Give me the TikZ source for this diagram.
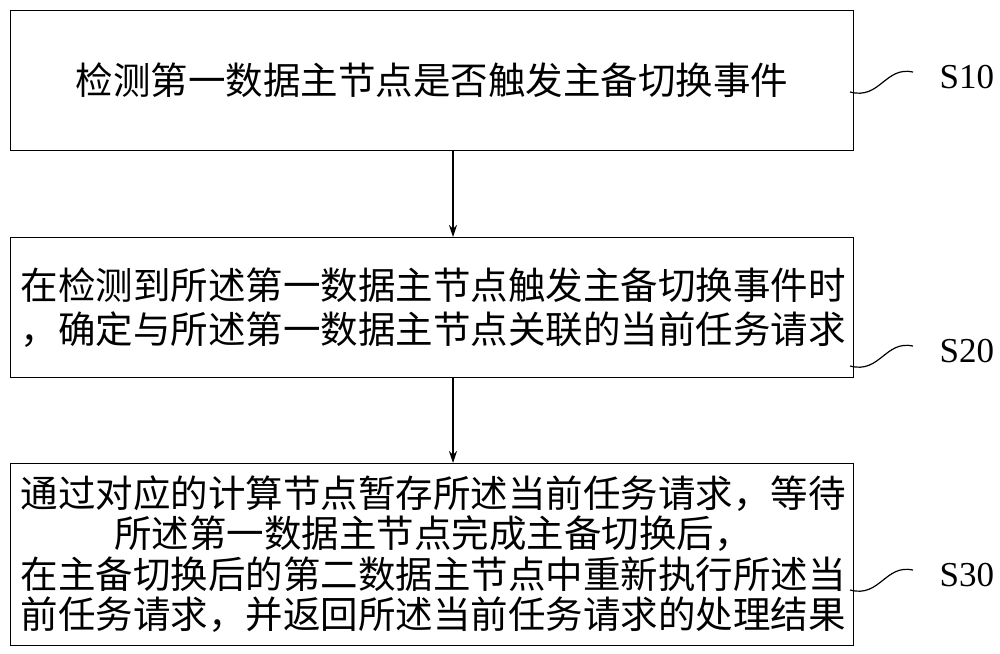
\documentclass[tikz,border=0pt]{standalone}
\usepackage{fontspec}
\usetikzlibrary{arrows.meta}
\setmainfont{Liberation Serif}
\newfontfamily\cjk{Noto Sans CJK SC}
\begin{document}
\begin{tikzpicture}[x=1pt,y=-1pt,
  box/.style={draw,line width=1.3pt,minimum width=843pt,inner sep=0pt,anchor=north west},
  txt/.style={font=\cjk\fontsize{37.5}{40.5}\selectfont,align=center},
  lab/.style={font=\fontsize{35}{36}\selectfont,anchor=west},
  arr/.style={-{Stealth[length=12pt,width=8pt]},line width=1.3pt}]
\useasboundingbox (0,0) rectangle (1000,653);
\node[box,minimum height=140pt] (b1) at (10,10) {};
\node[box,minimum height=140pt] (b2) at (10,237) {};
\node[box,minimum height=182pt] (b3) at (10,463) {};
\node[txt] at (432,80) {检测第一数据主节点是否触发主备切换事件};
\node[txt,font=\cjk\fontsize{37.5}{44}\selectfont] at (433,308) {在检测到所述第一数据主节点触发主备切换事件时\\，确定与所述第一数据主节点关联的当前任务请求};
\node[txt] at (433,554) {通过对应的计算节点暂存所述当前任务请求，等待\\所述第一数据主节点完成主备切换后，\\在主备切换后的第二数据主节点中重新执行所述当\\前任务请求，并返回所述当前任务请求的处理结果};
\coordinate (a1) at (453,150);
\coordinate (a2) at (453,237);
\coordinate (a3) at (453,377);
\coordinate (a4) at (453,463);
\draw[arr] (a1) -- (a2);
\draw[arr] (a3) -- (a4);
\foreach \y/\t in {80/S10,354/S20,578/S30}{
  \draw[line width=1.2pt] (850,\y+12) .. controls (880,\y+20) and (885,\y-14) .. (913,\y-8);
  \node[lab] at (936,\y-3) {\t};
}
\end{tikzpicture}
\end{document}
